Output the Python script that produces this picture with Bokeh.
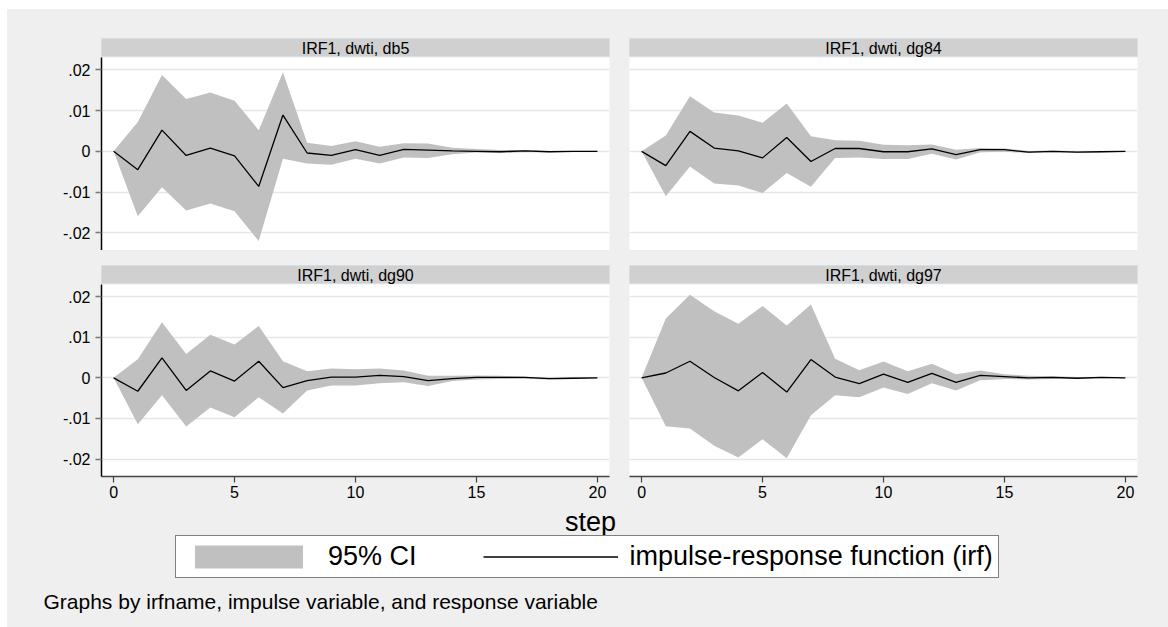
from bokeh.plotting import figure
from bokeh.layouts import column, row
from bokeh.models import (Range1d, FixedTicker, Label, Legend, LegendItem,
                          ColumnDataSource, Spacer)
from bokeh.embed import file_html
from bokeh.resources import INLINE

# ---------------- data ----------------
steps = list(range(21))

db5_irf = [0, -0.0045, 0.0052, -0.0010, 0.0008, -0.0011, -0.0086, 0.0089, -0.0004, -0.0010, 0.0004,
           -0.0010, 0.0005, 0.0003, 0.0001, 0.0000, -0.0001, 0.0001, -0.0001, 0.0000, 0.0000]
db5_lo = [0, -0.0159, -0.0088, -0.0145, -0.0128, -0.0147, -0.0220, -0.0018, -0.0030, -0.0033, -0.0018,
          -0.0030, -0.0015, -0.0016, -0.0007, -0.0003, -0.0004, -0.0002, -0.0002, -0.0001, -0.0001]
db5_hi = [0, 0.0072, 0.0187, 0.0128, 0.0144, 0.0124, 0.0052, 0.0194, 0.0021, 0.0013, 0.0025,
          0.0011, 0.0020, 0.0019, 0.0009, 0.0006, 0.0003, 0.0003, 0.0001, 0.0001, 0.0001]

dg84_irf = [0, -0.0035, 0.0049, 0.0008, 0.0001, -0.0016, 0.0034, -0.0025, 0.0007, 0.0007, -0.0001,
            -0.0001, 0.0006, -0.0008, 0.0004, 0.0004, -0.0002, 0.0000, -0.0002, -0.0001, 0.0000]
dg84_lo = [0, -0.0110, -0.0037, -0.0079, -0.0084, -0.0102, -0.0053, -0.0087, -0.0016, -0.0015, -0.0019,
           -0.0019, -0.0006, -0.0020, -0.0002, -0.0001, -0.0004, -0.0002, -0.0004, -0.0002, -0.0001]
dg84_hi = [0, 0.0039, 0.0135, 0.0095, 0.0088, 0.0070, 0.0117, 0.0037, 0.0027, 0.0026, 0.0016,
           0.0015, 0.0017, 0.0004, 0.0008, 0.0007, 0.0001, 0.0002, 0.0000, 0.0001, 0.0001]

dg90_irf = [0, -0.0033, 0.0049, -0.0031, 0.0017, -0.0008, 0.0041, -0.0024, -0.0007, 0.0002, 0.0002,
            0.0006, 0.0003, -0.0007, -0.0002, 0.0001, 0.0001, 0.0001, -0.0002, -0.0001, 0.0000]
dg90_lo = [0, -0.0114, -0.0043, -0.0120, -0.0073, -0.0097, -0.0048, -0.0088, -0.0031, -0.0019, -0.0019,
           -0.0013, -0.0011, -0.0020, -0.0008, -0.0004, -0.0003, -0.0002, -0.0004, -0.0003, -0.0001]
dg90_hi = [0, 0.0046, 0.0137, 0.0059, 0.0106, 0.0082, 0.0128, 0.0041, 0.0016, 0.0023, 0.0021,
           0.0023, 0.0018, 0.0005, 0.0005, 0.0006, 0.0005, 0.0003, 0.0000, 0.0001, 0.0001]

dg97_irf = [0, 0.0012, 0.0041, 0.0001, -0.0032, 0.0013, -0.0035, 0.0045, 0.0002, -0.0014, 0.0009,
            -0.0011, 0.0011, -0.0011, 0.0006, 0.0003, 0.0000, 0.0001, -0.0001, 0.0001, 0.0000]
dg97_lo = [0, -0.0119, -0.0125, -0.0167, -0.0196, -0.0151, -0.0198, -0.0092, -0.0043, -0.0048, -0.0024,
           -0.0040, -0.0013, -0.0031, -0.0006, -0.0003, -0.0004, -0.0003, -0.0003, -0.0001, -0.0001]
dg97_hi = [0, 0.0146, 0.0205, 0.0164, 0.0133, 0.0177, 0.0129, 0.0181, 0.0047, 0.0019, 0.0040,
           0.0016, 0.0035, 0.0009, 0.0018, 0.0009, 0.0005, 0.0004, 0.0002, 0.0002, 0.0001]

panel_titles = ["IRF1, dwti, db5", "IRF1, dwti, dg84", "IRF1, dwti, dg90", "IRF1, dwti, dg97"]
y_ticks = [-0.02, -0.01, 0.0, 0.01, 0.02]
y_tick_labels = ["-.02", "-.01", "0", ".01", ".02"]
x_ticks = [0, 5, 10, 15, 20]
x_label = "step"
legend_labels = ["95% CI", "impulse-response function (irf)"]
note_text = "Graphs by irfname, impulse variable, and response variable"

# ---------------- style ----------------
BG = "#efefef"
CI = "#c0c0c0"
BAR = "#d0d0d0"
FONT = "Liberation Sans"

xr = Range1d(-0.5, 20.5)
yr = Range1d(-0.0243, 0.023)

LEFT_W, RIGHT_W = 612, 549


def title_fig(text, left, top_pad):
    w = LEFT_W if left else RIGHT_W
    f = figure(width=w, height=19 + top_pad, x_range=Range1d(0, 1), y_range=Range1d(0, 1),
               title=None, toolbar_location=None, output_backend="svg",
               x_axis_location=None, y_axis_location=None,
               min_border_left=94 if left else 10, min_border_right=10 if left else 31,
               min_border_top=top_pad, min_border_bottom=0)
    f.grid.visible = False
    f.background_fill_color = BAR
    f.border_fill_color = BG
    f.outline_line_color = "#d4dee4"
    f.outline_line_width = 1
    f.add_layout(Label(x=0.5, y=0.5, text=text, text_align="center", text_baseline="middle",
                       text_font=FONT, text_font_size="16px", text_color="black"))
    return f


def panel_fig(irf, lo, hi, left, bottom):
    w = LEFT_W if left else RIGHT_W
    h = 192 + 29 if bottom else 193
    f = figure(width=w, height=h, x_range=xr, y_range=yr, title=None,
               toolbar_location=None, output_backend="svg",
               x_axis_location="below" if bottom else None,
               y_axis_location="left" if left else None,
               min_border_left=94 if left else 10, min_border_right=10 if left else 31,
               min_border_top=0, min_border_bottom=29 if bottom else 0)
    f.background_fill_color = "white"
    f.border_fill_color = BG
    f.outline_line_color = None
    f.xgrid.visible = False
    f.ygrid.ticker = FixedTicker(ticks=y_ticks)
    f.ygrid.grid_line_color = "#e6e6e6"
    f.ygrid.grid_line_width = 1.5
    src = ColumnDataSource(dict(step=steps, irf=irf, lo=lo, hi=hi))
    f.varea(x="step", y1="lo", y2="hi", source=src, fill_color=CI, fill_alpha=1)
    f.line(x="step", y="irf", source=src, line_color="black", line_width=1.3)
    if left:
        ax = f.yaxis[0]
        ax.ticker = FixedTicker(ticks=y_ticks)
        ax.major_label_overrides = {t: s for t, s in zip(y_ticks, y_tick_labels)}
        ax.axis_line_color = "black"
        ax.axis_line_width = 1.5
        ax.major_tick_line_color = "#777777"
        ax.major_tick_line_width = 1.5
        ax.major_tick_out = 6
        ax.major_tick_in = 0
        ax.minor_tick_line_color = None
        ax.major_label_standoff = 5
        ax.major_label_text_font = FONT
        ax.major_label_text_font_size = "16px"
        ax.major_label_text_color = "black"
    if bottom:
        ax = f.xaxis[0]
        ax.ticker = FixedTicker(ticks=x_ticks)
        ax.axis_line_color = "#444444"
        ax.axis_line_width = 1.5
        ax.major_tick_line_color = "#444444"
        ax.major_tick_line_width = 1.2
        ax.major_tick_out = 6
        ax.major_tick_in = 0
        ax.minor_tick_line_color = None
        ax.major_label_standoff = 3
        ax.major_label_text_font = FONT
        ax.major_label_text_font_size = "16px"
        ax.major_label_text_color = "black"
    return f, src


tTL = title_fig(panel_titles[0], True, 29)
tTR = title_fig(panel_titles[1], False, 29)
tBL = title_fig(panel_titles[2], True, 15)
tBR = title_fig(panel_titles[3], False, 15)

fTL, src0 = panel_fig(db5_irf, db5_lo, db5_hi, True, False)
fTR, _ = panel_fig(dg84_irf, dg84_lo, dg84_hi, False, False)
fBL, _ = panel_fig(dg90_irf, dg90_lo, dg90_hi, True, True)
fBR, _ = panel_fig(dg97_irf, dg97_lo, dg97_hi, False, True)

# bottom strip: axis title, legend, note
BW, BH = LEFT_W + RIGHT_W, 122
fb = figure(width=BW, height=BH, x_range=Range1d(0, BW), y_range=Range1d(0, BH), title=None,
            toolbar_location=None, output_backend="svg",
            x_axis_location=None, y_axis_location=None,
            min_border_left=0, min_border_right=0, min_border_top=0, min_border_bottom=0)
fb.grid.visible = False
fb.background_fill_color = BG
fb.border_fill_color = BG
fb.outline_line_color = None

leg_ci = fb.varea(x="step", y1="lo", y2="hi", source=src0, fill_color=CI, fill_alpha=1)
leg_ln = fb.line(x="step", y="irf", source=src0, line_color="black", line_width=1.3)
leg_ci.visible = False
leg_ln.visible = False

fb.add_layout(Label(x=583, y=BH - 16, text=x_label, text_align="center", text_baseline="middle",
                    text_font=FONT, text_font_size="27px", text_color="black"))
fb.add_layout(Label(x=36, y=BH - 96, text=note_text, text_align="left", text_baseline="middle",
                    text_font=FONT, text_font_size="21px", text_color="black"))

legend = Legend(items=[LegendItem(label=legend_labels[0], renderers=[leg_ci]),
                       LegendItem(label=legend_labels[1], renderers=[leg_ln])],
                orientation="horizontal", location=(168, 49), margin=0,
                padding=5, spacing=66, label_standoff=12,
                glyph_width=135, glyph_height=29,
                border_line_color="black", border_line_width=1.5,
                background_fill_color="white", background_fill_alpha=1,
                label_text_font=FONT, label_text_font_size="27px", label_text_color="black",
                click_policy="none")
fb.add_layout(legend, "center")

main = column(row(tTL, tTR), row(fTL, fTR), row(tBL, tBR), row(fBL, fBR), fb,
              styles={"background-color": BG})
layout = row(Spacer(width=7), column(Spacer(height=9), main))

open("out.html", "w").write(file_html(layout, INLINE))
